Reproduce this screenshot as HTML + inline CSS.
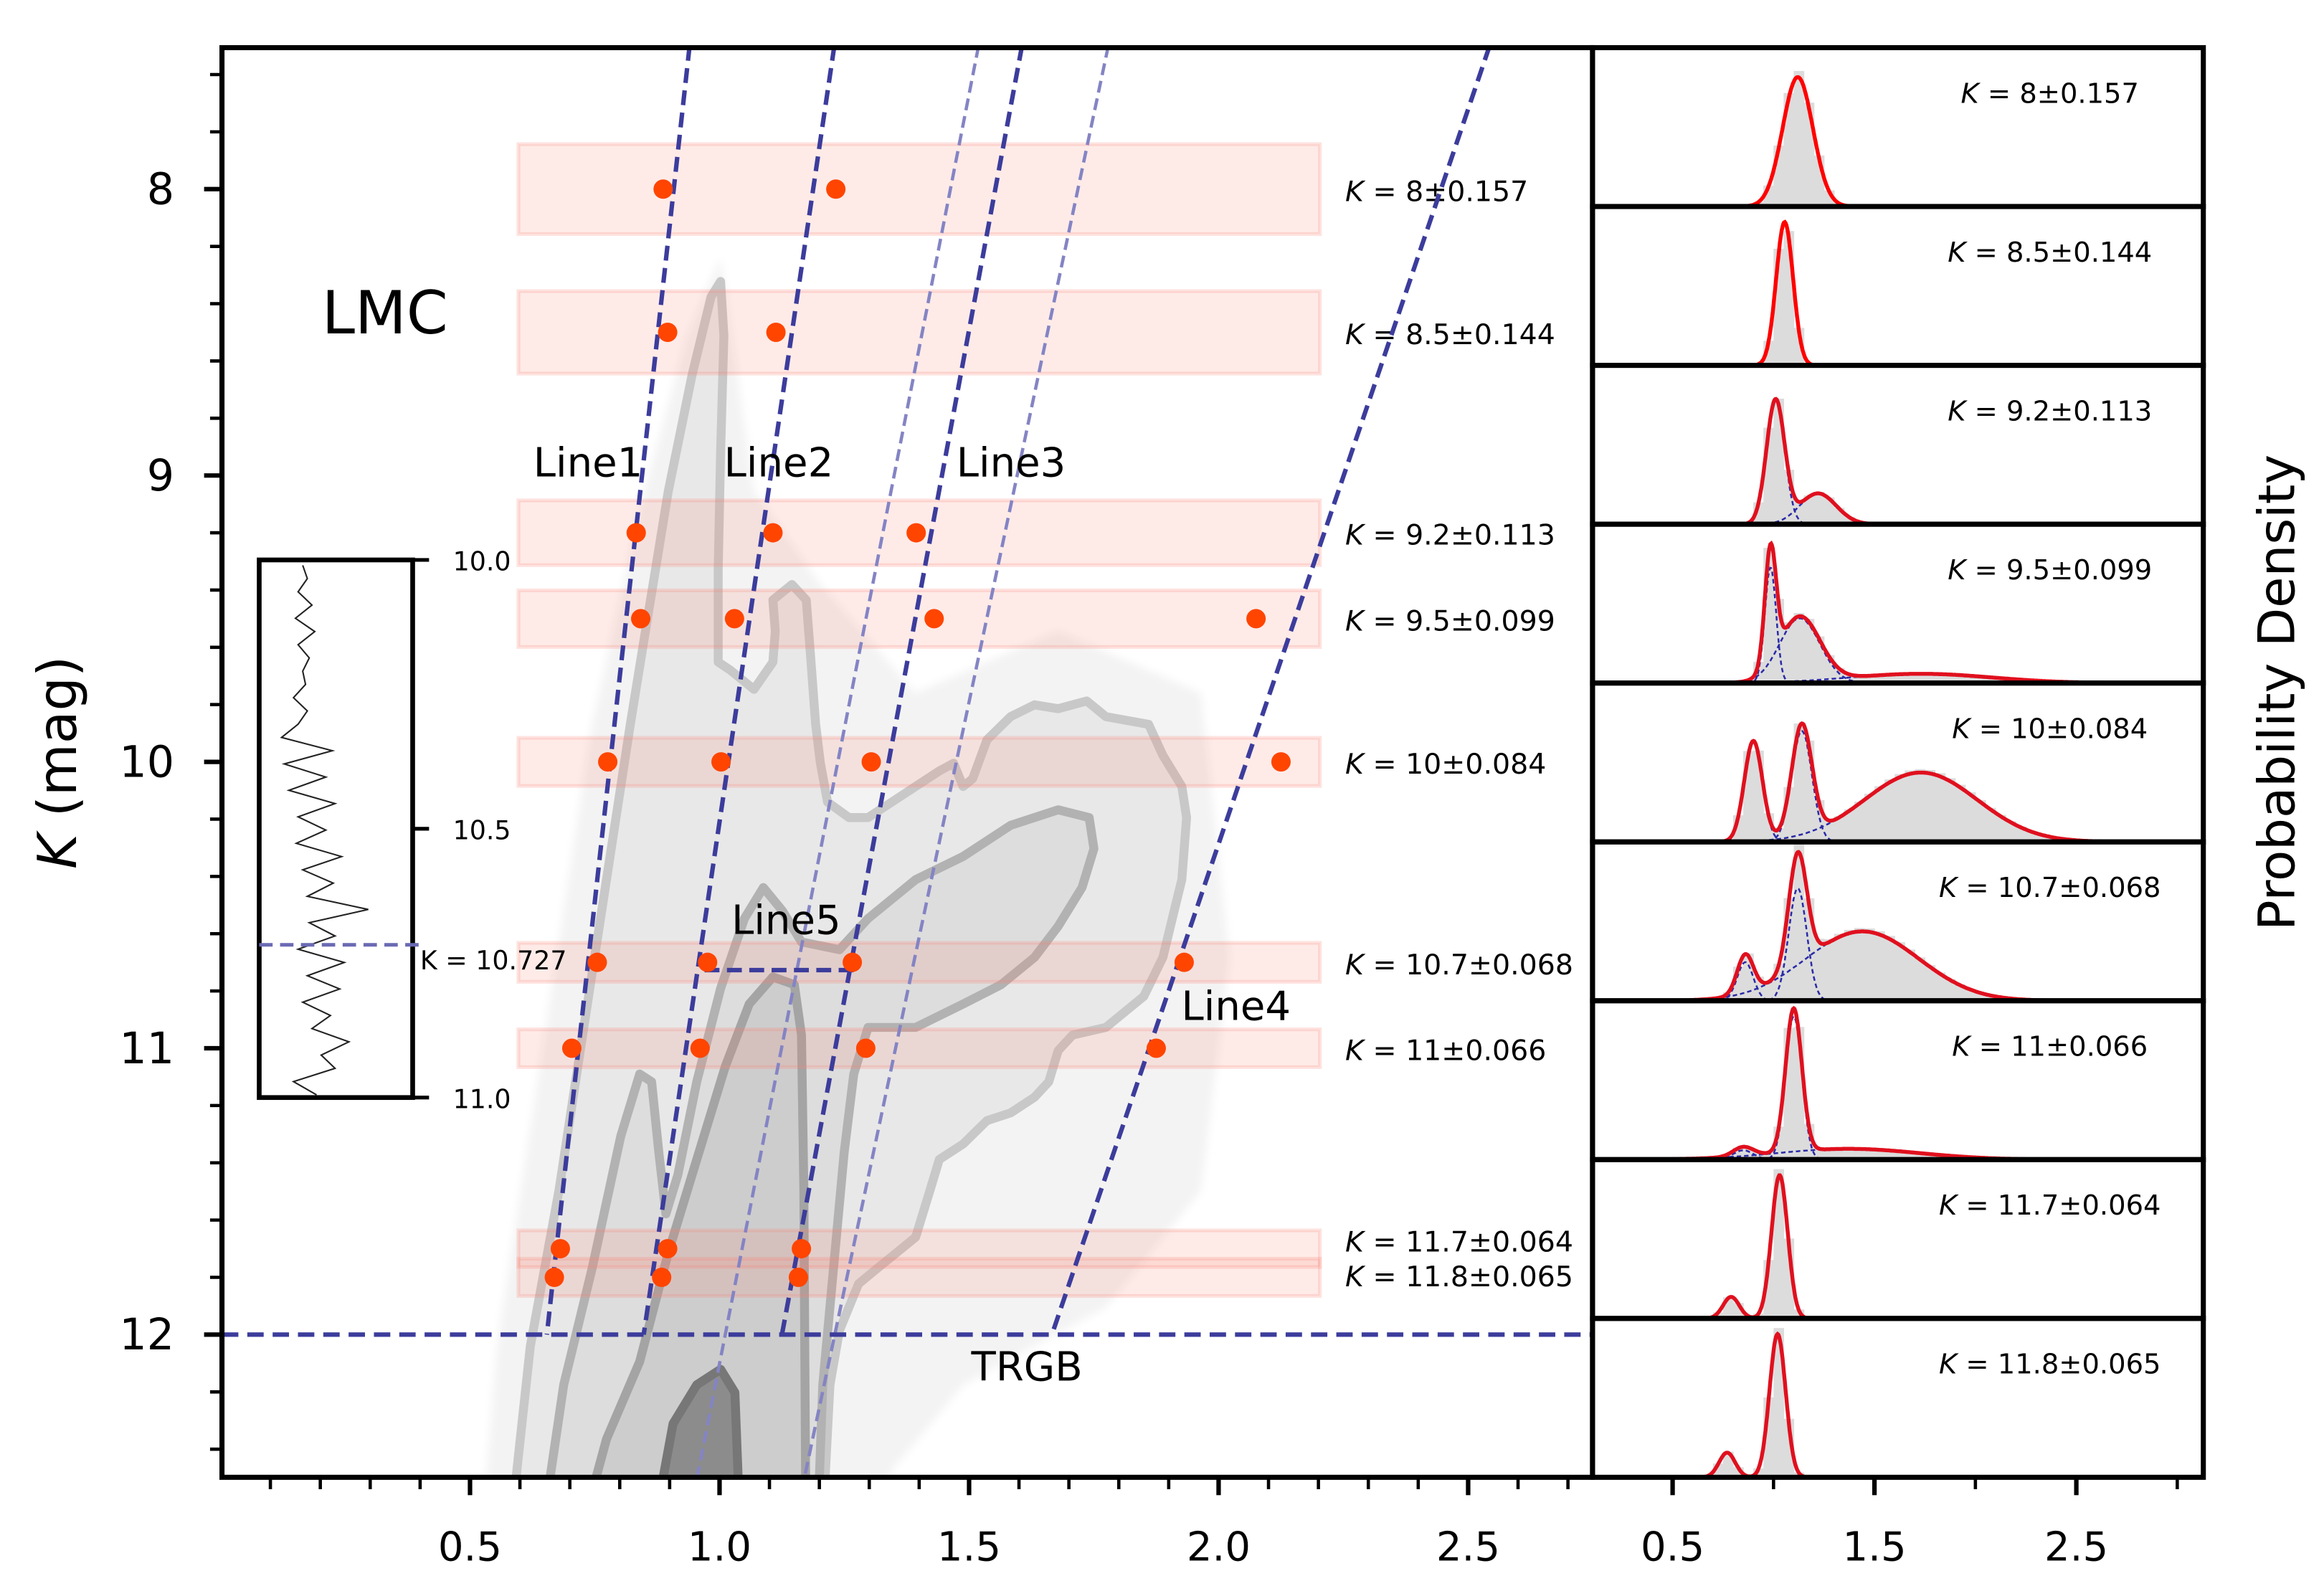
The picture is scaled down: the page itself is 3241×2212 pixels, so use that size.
<!DOCTYPE html>
<html><head><meta charset="utf-8"><title>LMC CMD lines</title>
<style>
html,body{margin:0;padding:0;background:#fff;}
svg{display:block;font-family:"DejaVu Sans","Liberation Sans",sans-serif;}
</style></head>
<body>
<svg id="fig" xmlns="http://www.w3.org/2000/svg" width="3241" height="2212" viewBox="0 0 1560 1065" preserveAspectRatio="none">
<defs>
<clipPath id="mainclip"><rect x="149" y="32" width="920" height="960"/></clipPath>
<clipPath id="rightclip"><rect x="1069" y="32" width="410" height="960"/></clipPath>
<filter id="soft"><feGaussianBlur stdDeviation="3"/></filter>
</defs>
<rect x="0" y="0" width="1560" height="1065" fill="#fff"/>
<g id="main"></g>
<g id="right"></g>
</svg>
<script>
// ---- data ----
const bandK = [8, 8.5, 9.2, 9.5, 10, 10.7, 11, 11.7, 11.8];
const bandSigma = [0.157, 0.144, 0.113, 0.099, 0.084, 0.068, 0.066, 0.064, 0.065];
const bandLabels = ["8±0.157","8.5±0.144","9.2±0.113","9.5±0.099","10±0.084","10.7±0.068","11±0.066","11.7±0.064","11.8±0.065"];
const peakColors = [
  [0.887, 1.233],
  [0.896, 1.113],
  [0.833, 1.107, 1.394],
  [0.842, 1.030, 1.430, 2.075],
  [0.776, 1.003, 1.304, 2.125],
  [0.755, 0.976, 1.266, 1.931],
  [0.704, 0.961, 1.293, 1.875],
  [0.681, 0.896, 1.164],
  [0.669, 0.884, 1.158]
];
const lineNames = ["line1","line2","line3-light-a","line3","line3-light-b","line4"];
const lineTopColor = [0.940, 1.230, 1.519, 1.606, 1.779, 2.543];
const lineTopK = [7.5, 7.5, 7.5, 7.5, 7.5, 7.5];
const lineBotColor = [0.654, 0.848, 0.955, 1.125, 1.170, 1.666];
const lineBotK = [12, 12, 12.5, 12, 12.5, 12];
const lineLight = [false, false, true, false, true, false];
const trgbK = 12;
const line5K = 10.727;
const line5Colors = [0.97, 1.27];
const xTicksMain = [0.5, 1.0, 1.5, 2.0, 2.5];
const xTickLabelsMain = ["0.5","1.0","1.5","2.0","2.5"];
const yTicks = [8, 9, 10, 11, 12];
const yTickLabels = ["8","9","10","11","12"];
const xTicksRight = [0.5, 1.5, 2.5];
const xTickLabelsRight = ["0.5","1.5","2.5"];
const compMeans = [[1.12],[1.055],[1.01,1.22],[0.985,1.13,1.73],[0.90,1.14,1.73],[0.86,1.12,1.44],[0.85,1.10,1.37],[0.79,1.03],[0.77,1.02]];
const compSigmas = [[0.075],[0.042],[0.045,0.09],[0.028,0.10,0.35],[0.045,0.05,0.28],[0.04,0.045,0.28],[0.05,0.04,0.35],[0.04,0.04],[0.04,0.04]];
const compHeights = [[0.84],[0.93],[0.80,0.20],[0.75,0.42,0.06],[0.65,0.72,0.45],[0.25,0.73,0.45],[0.06,0.93,0.07],[0.14,0.93],[0.16,0.93]];
const insetCounts = [31,36,26,41,23,44,26,38,31,34,21,36,26,8,63,11,56,16,66,26,56,24,73,31,64,36,102,38,66,26,76,36,71,31,61,41,81,51,66,21,46];

// ---- scales ----
const xs = c => 148 + 335*c;
const ys = k => 127 + (k-8)*192.3;
const xr = c => 1055 + 135.5*c;
const NS = "http://www.w3.org/2000/svg";
function mk(tag, attrs, parent){const e=document.createElementNS(NS,tag);for(const k in attrs)e.setAttribute(k,attrs[k]);parent.appendChild(e);return e;}
function txt(s, attrs, parent){const e=mk("text",attrs,parent);e.textContent=s;return e;}
function kLabel(val, attrs, parent){const e=mk("text",attrs,parent);const t1=document.createElementNS(NS,"tspan");t1.setAttribute("font-style","italic");t1.textContent="K";e.appendChild(t1);const t2=document.createElementNS(NS,"tspan");t2.textContent=" = "+val;e.appendChild(t2);return e;}

const main = document.getElementById("main");
const right = document.getElementById("right");

// ---- density cloud ----
const cloud = mk("g",{"clip-path":"url(#mainclip)"},main);


function cp(pts){return pts.map(p=>[327.3+p[0]*0.3192,173.3+p[1]*0.5218]);}
function pathOf(pts){return "M"+pts.map(p=>p[0].toFixed(1)+","+p[1].toFixed(1)).join("L")+"Z";}
const outerC = cp([[40,1700],[60,1568],[90,1400],[150,1200],[200,1000],[250,800],[300,600],[340,450],[380,300],[430,150],[470,50],[490,30],[497,100],[490,250],[485,400],[485,520],[510,530],[560,555],[600,520],[605,480],[600,440],[640,420],[670,440],[680,520],[690,600],[700,650],[715,700],[760,720],[800,720],[850,700],[900,680],[950,660],[980,650],[1000,680],[1020,670],[1050,620],[1100,590],[1150,575],[1200,580],[1260,570],[1300,590],[1390,600],[1420,640],[1460,680],[1470,720],[1460,800],[1440,850],[1420,900],[1380,950],[1300,990],[1230,1000],[1200,1020],[1180,1060],[1150,1080],[1100,1100],[1050,1110],[1000,1140],[950,1160],[930,1200],[900,1260],[860,1280],[820,1300],[780,1320],[740,1380],[720,1450],[710,1568],[705,1700]]);
const scatterC = cp([[-20,1700],[20,1400],[120,1000],[220,600],[330,300],[420,100],[490,0],[560,300],[700,420],[900,560],[1200,480],[1500,560],[1560,900],[1500,1200],[1300,1350],[1000,1450],[850,1560],[800,1700]]);
const midC = cp([[100,1700],[160,1450],[220,1300],[280,1130],[320,1050],[345,1060],[360,1150],[375,1230],[400,1180],[440,1060],[490,940],[540,850],[580,810],[620,840],[660,880],[740,890],[800,850],[900,800],[1000,770],[1100,730],[1200,710],[1265,720],[1275,760],[1250,810],[1200,860],[1150,900],[1080,935],[1000,960],[900,990],[800,990],[770,1050],[750,1150],[735,1250],[720,1350],[705,1450],[690,1700]]);
const innerC = cp([[170,1700],[250,1520],[320,1420],[380,1280],[440,1160],[500,1040],[550,960],[600,925],[645,935],[660,1000],[665,1200],[667,1400],[670,1700]]);
const coreC = cp([[330,1700],[390,1500],[440,1450],[490,1430],[520,1460],[535,1700]]);
const sc = mk("path",{d:pathOf(scatterC),fill:"#f3f3f3",filter:"url(#soft)"},cloud);


const c1 = mk("path",{d:pathOf(outerC),fill:"#e8e8e8",stroke:"#c8c8c8","stroke-width":6,"stroke-linejoin":"round"},cloud);


const c2 = mk("path",{d:pathOf(midC),fill:"#dddddd",stroke:"#b2b2b2","stroke-width":6,"stroke-linejoin":"round"},cloud);


const c3 = mk("path",{d:pathOf(innerC),fill:"#cdcdcd",stroke:"#a4a4a4","stroke-width":6,"stroke-linejoin":"round"},cloud);


const c4 = mk("path",{d:pathOf(coreC),fill:"#8c8c8c",stroke:"#777","stroke-width":6,"stroke-linejoin":"round"},cloud);



// ---- bands ----
bandK.forEach((k,i)=>{
  const r = mk("rect",{x:348,y:Math.min(ys(k-bandSigma[i]),ys(k+bandSigma[i])),width:538,height:Math.abs(ys(k+bandSigma[i])-ys(k-bandSigma[i])),fill:"rgba(250,128,114,0.16)",stroke:"rgba(250,128,114,0.22)","stroke-width":2.5},main);
  
  
  const t = kLabel(bandLabels[i],{x:903,y:ys(k)+(k===11.7?2:k===11.8?6:8),"font-size":19,fill:"#000"},main);
  
  
});

// ---- dashed lines ----
const lg = mk("g",{"clip-path":"url(#mainclip)"},main);


lineNames.forEach((n,i)=>{
  const l = mk("line",{x1:xs(lineTopColor[i]),y1:ys(lineTopK[i]),x2:xs(lineBotColor[i]),y2:ys(lineBotK[i]),stroke:lineLight[i]?"#8484c4":"#3c3c9c","stroke-width":lineLight[i]?2.2:3,"stroke-dasharray":lineLight[i]?"8,4":"10,5"},lg);
  
  
});
const trgb = mk("line",{x1:149,y1:ys(trgbK),x2:1069,y2:ys(trgbK),stroke:"#3c3c9c","stroke-width":3,"stroke-dasharray":"11,6"},lg);


const l5 = mk("line",{x1:xs(line5Colors[0]),y1:ys(line5K),x2:xs(line5Colors[1]),y2:ys(line5K),stroke:"#3c3c9c","stroke-width":3,"stroke-dasharray":"10,5"},lg);



// ---- red points ----
peakColors.forEach((arr,i)=>{
  arr.forEach((c,j)=>{
    const d = mk("circle",{cx:xs(c),cy:ys(bandK[i]),r:6.5,fill:"#ff4500"},main);
    
    
  });
});

// ---- annotations ----
const ann = [["LMC",216,224,40],["Line1",358,320,27],["Line2",486,320,27],["Line3",642,320,27],["Line5",491,627,27],["Line4",793,685,27],["TRGB",652,927,27]];
ann.forEach(a=>{
  const t = txt(a[0],{x:a[1],y:a[2],"font-size":a[3],fill:"#000"},main);
  
  
});

// ---- inset ----
const inset = mk("g",{},main);


const ib = mk("rect",{x:174,y:376,width:103,height:361,fill:"#fff",stroke:"#000","stroke-width":3.2},inset);


const iy = k => 376 + (k-10)*361;
const ipts = insetCounts.map((v,i)=>[184+v*0.62, iy(10.01 + i*(0.985/(insetCounts.length-1)))]);
const ip = mk("polyline",{points:ipts.map(p=>p[0].toFixed(1)+","+p[1].toFixed(1)).join(" "),fill:"none",stroke:"#222","stroke-width":1},inset);


[[10.0,"10.0"],[10.5,"10.5"],[11.0,"11.0"]].forEach(t=>{
  const tk = mk("line",{x1:277,y1:iy(t[0]),x2:288,y2:iy(t[0]),stroke:"#000","stroke-width":2.5},inset);
  
  
  const tl = txt(t[1],{x:304,y:iy(t[0])+7,"font-size":17.5},inset);
  
  
});
const idl = mk("line",{x1:174,y1:iy(line5K)-4,x2:285,y2:iy(line5K)-4,stroke:"#6a6ab4","stroke-width":2.4,"stroke-dasharray":"9,5"},inset);


const ikl = mk("text",{x:282,y:651,"font-size":17.5},inset);
ikl.textContent="K = 10.727";



// ---- main axes ----
const frame = mk("rect",{x:149,y:32,width:920,height:960,fill:"none",stroke:"#000","stroke-width":3.4},main);


for(let m=1;m<=27;m++){
  const c=m/10, major = (m%5===0);
  const t = mk("line",{x1:xs(c),y1:992,x2:xs(c),y2:992+(major?12:8),stroke:"#000","stroke-width":major?3:2.2},main);
  
  
}
xTicksMain.forEach((c,i)=>{
  const t = txt(xTickLabelsMain[i],{x:xs(c),y:1048,"font-size":27,"text-anchor":"middle"},main);
  
  
});
for(let m=38;m<=62;m++){
  const k=m/5, major=(m%5===0);
  const t = mk("line",{x1:149,y1:ys(k),x2:149-(major?12:8),y2:ys(k),stroke:"#000","stroke-width":major?3:2.2},main);
  
  
}
yTicks.forEach((k,i)=>{
  const t = txt(yTickLabels[i],{x:117,y:ys(k)+10,"font-size":29,"text-anchor":"end"},main);
  
  
});
const yt = mk("text",{x:0,y:0,"font-size":36,"text-anchor":"middle",transform:"translate(51,512) rotate(-90)"},main);


{const a=document.createElementNS(NS,"tspan");a.setAttribute("font-style","italic");a.textContent="K";yt.appendChild(a);const b=document.createElementNS(NS,"tspan");b.textContent=" (mag)";yt.appendChild(b);}

// ---- right panels ----
const ph = 960/9;
function gauss(c,m,s,h){return h*Math.exp(-0.5*((c-m)/s)**2);}
bandK.forEach((k,i)=>{
  const top = 32 + i*ph, bot = top+ph;
  const g = mk("g",{"clip-path":"url(#rightclip)"},right);
  
  
  const amp = ph*0.97;
  const mix = c => compMeans[i].reduce((s,m,j)=>s+gauss(c,m,compSigmas[i][j],compHeights[i][j]),0);
  for(let c=0.3;c<2.9;c+=0.05){
    const v = mix(c+0.025)*1.05;
    if(v*amp<0.6) continue;
    const b = mk("rect",{x:xr(c),y:bot-v*amp,width:135.5*0.05+0.3,height:v*amp,fill:"#dcdcdc"},g);
    
    
  }
  if(compMeans[i].length>1){
    compMeans[i].forEach((m,j)=>{
      const pts=[];
      for(let c=m-4*compSigmas[i][j];c<=m+4*compSigmas[i][j];c+=0.005) pts.push(xr(c).toFixed(1)+","+(bot-gauss(c,m,compSigmas[i][j],compHeights[i][j])*amp).toFixed(1));
      const p = mk("polyline",{points:pts.join(" "),fill:"none",stroke:"#2a2aa8","stroke-width":1.2,"stroke-dasharray":"3,2"},g);
      
      
    });
  }
  const pts=[];
  for(let c=0.12;c<=2.95;c+=0.004) pts.push(xr(c).toFixed(1)+","+(bot-mix(c)*amp).toFixed(1));
  const rc = mk("polyline",{points:pts.join(" "),fill:"none",stroke:compMeans[i].length>1?"#e0101e":"#ff0000","stroke-width":2.6},g);
  
  
  const lab = kLabel(bandLabels[i],{x:1376,y:top+37,"font-size":18.5,"text-anchor":"middle"},right);
  
  
  const dv = mk("rect",{x:1069,y:top,width:410,height:ph,fill:"none",stroke:"#000","stroke-width":3.4},right);
  
  
});
for(let c=0.5;c<=3.0;c+=0.5){
  const major = [0.5,1.5,2.5].includes(c);
  const t = mk("line",{x1:xr(c),y1:992,x2:xr(c),y2:992+(major?12:8),stroke:"#000","stroke-width":major?3:2.2},right);
  
  
}
xTicksRight.forEach((c,i)=>{
  const t = txt(xTickLabelsRight[i],{x:xr(c),y:1048,"font-size":27,"text-anchor":"middle"},right);
  
  
});
const pd = txt("Probability Density",{x:0,y:0,"font-size":34,"text-anchor":"middle",transform:"translate(1540,465) rotate(-90)"},right);


</script>
</body></html>
